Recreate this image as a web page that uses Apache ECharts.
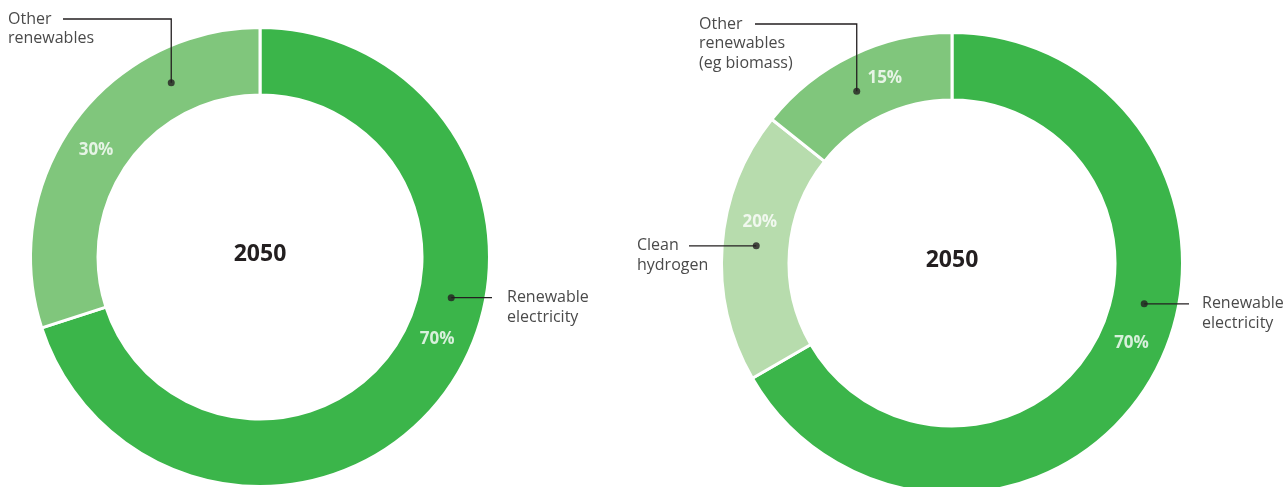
<!DOCTYPE html>
<html>
<head>
<meta charset="utf-8">
<script src="https://cdn.jsdelivr.net/npm/echarts@6/dist/echarts.min.js"></script>
<style>
html,body{margin:0;padding:0;background:#fff;}
#c{width:1287px;height:487px;}
</style>
</head>
<body>
<div id="c"></div>
<script>
// ---- data ----
const centerTitle = '2050';
const leftCategories = ['Renewable electricity', 'Other renewables'];
const leftValues = [70, 30];
const leftPctLabels = ['70%', '30%'];
const rightCategories = ['Renewable electricity', 'Clean hydrogen', 'Other renewables (eg biomass)'];
const rightValues = [70, 20, 15];
const rightPctLabels = ['70%', '20%', '15%'];
// angles (degrees clockwise from top) where labels / leader dots sit on the ring
const leftLabelAngles = [115, 303];
const leftDotAngles = [102, 333];
const rightLabelAngles = [114, 282, 340];
const rightDotAngles = [102, 275, 331];
const leftCallouts = ['Renewable\nelectricity', 'Other\nrenewables'];
const rightCallouts = ['Renewable\nelectricity', 'Clean\nhydrogen', 'Other\nrenewables\n(eg biomass)'];

// ---- layout / style ----
const DARK = '#3bb54a', MID = '#80c67c', LIGHT = '#b7dcad';
const leftColors = [DARK, MID];
const rightColors = [DARK, LIGHT, MID];
const L = {cx: 260, cy: 257, r0: 163, r1: 228};
const R = {cx: 952, cy: 263, r0: 164, r1: 229};
const FONT = '"Open Sans", "Noto Sans", sans-serif';

const chart = echarts.init(document.getElementById('c'), null, {renderer: 'canvas'});

function pieSeries(geo, cats, vals, colors) {
  return {
    type: 'pie', center: [geo.cx, geo.cy], radius: [geo.r0 - 1, geo.r1 + 1.5],
    startAngle: 90, clockwise: true, silent: true, animation: false, z: 1,
    label: {show: false}, labelLine: {show: false},
    itemStyle: {borderColor: '#fff', borderWidth: 3},
    emphasis: {disabled: true},
    data: cats.map((n, i) => ({name: n, value: vals[i], itemStyle: {color: colors[i]}}))
  };
}
function mid(geo) { return (geo.r0 + geo.r1) / 2; }
function pctSeries(pi, geo, angles, texts) {
  return {
    type: 'scatter', coordinateSystem: 'polar', polarIndex: pi, silent: true, animation: false, z: 5,
    symbolSize: 1, itemStyle: {color: 'rgba(0,0,0,0)'},
    label: {show: true, position: 'inside', color: '#fff', fontWeight: 'bold', fontSize: 17, fontFamily: FONT,
      formatter: p => p.data.t},
    data: angles.map((a, i) => ({value: [mid(geo), a], t: texts[i]}))
  };
}
function dotSeries(pi, geo, angles) {
  return {
    type: 'scatter', coordinateSystem: 'polar', polarIndex: pi, silent: true, animation: false, z: 20,
    symbol: 'circle', symbolSize: 7, itemStyle: {color: '#231f20'},
    data: angles.map(a => [mid(geo), a])
  };
}

const option = {
  backgroundColor: '#fff',
  animation: false,
  polar: [
    {center: [L.cx, L.cy], radius: L.r1},
    {center: [R.cx, R.cy], radius: R.r1}
  ],
  angleAxis: [
    {polarIndex: 0, type: 'value', min: 0, max: 360, startAngle: 90, clockwise: true, show: false},
    {polarIndex: 1, type: 'value', min: 0, max: 360, startAngle: 90, clockwise: true, show: false}
  ],
  radiusAxis: [
    {polarIndex: 0, type: 'value', min: 0, max: L.r1, show: false},
    {polarIndex: 1, type: 'value', min: 0, max: R.r1, show: false}
  ],
  series: [
    pieSeries(L, leftCategories, leftValues, leftColors),
    pieSeries(R, rightCategories, rightValues, rightColors),
    pctSeries(0, L, leftLabelAngles, leftPctLabels),
    pctSeries(1, R, rightLabelAngles, rightPctLabels),
    dotSeries(0, L, leftDotAngles),   // series 4
    dotSeries(1, R, rightDotAngles)   // series 5
  ]
};
chart.setOption(option);

// ---- callouts (leader lines + text) built from dot positions ----
const LH = 19.5;
function px(seriesIndex, geo, angle) {
  return chart.convertToPixel({seriesIndex: seriesIndex}, [mid(geo), angle]);
}
const gfx = [];
function addText(text, x, yFirst) {
  gfx.push({type: 'text', silent: true, z: 10, x: x, y: yFirst - LH / 2,
    style: {text: text, fill: '#4a4a4a', font: '16px ' + FONT, lineHeight: LH, textVerticalAlign: 'top', textAlign: 'left'}});
}
function addLine(pts) {
  gfx.push({type: 'polyline', silent: true, z: 10, shape: {points: pts}, style: {stroke: '#231f20', lineWidth: 1.3, fill: null}});
}
// left chart
let d = px(4, L, leftDotAngles[0]);
addLine([d, [492, d[1]]]); addText(leftCallouts[0], 507, d[1]);
d = px(4, L, leftDotAngles[1]);
addLine([d, [d[0], 19], [63, 19]]); addText(leftCallouts[1], 8, 19);
// right chart
d = px(5, R, rightDotAngles[0]);
addLine([d, [1189, d[1]]]); addText(rightCallouts[0], 1202, d[1]);
d = px(5, R, rightDotAngles[1]);
addLine([d, [689, d[1]]]); addText(rightCallouts[1], 637, d[1]);
d = px(5, R, rightDotAngles[2]);
addLine([d, [d[0], 24], [755, 24]]); addText(rightCallouts[2], 699, 24);
// centre titles
[L, R].forEach(g => gfx.push({type: 'text', silent: true, z: 10, x: g.cx, y: g.cy - 3,
  style: {text: centerTitle, fill: '#231f20', font: 'bold 23px ' + FONT, textAlign: 'center', textVerticalAlign: 'middle'}}));

chart.setOption({graphic: {elements: gfx}});
</script>
</body>
</html>
